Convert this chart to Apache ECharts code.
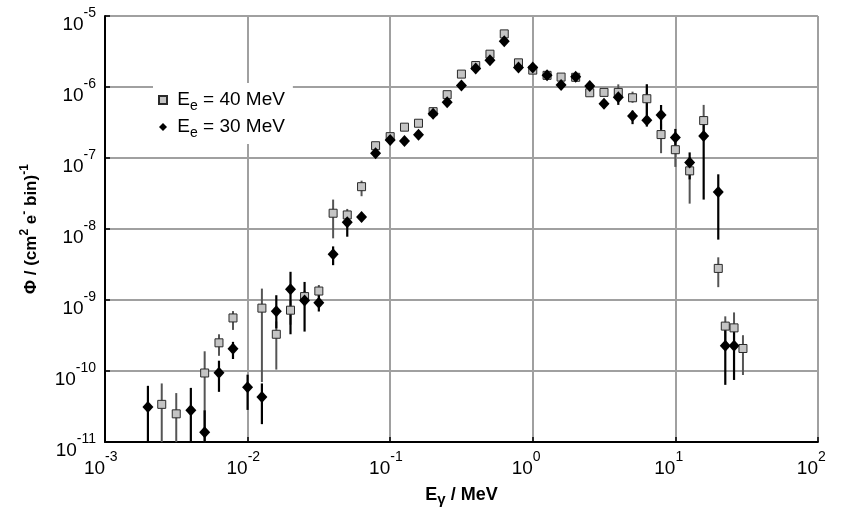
<!DOCTYPE html>
<html>
<head>
<meta charset="utf-8">
<script src="https://cdn.jsdelivr.net/npm/echarts@6/dist/echarts.min.js"></script>
<style>
  html, body { margin: 0; padding: 0; background: #fff; }
  #main { width: 842px; height: 512px; }
</style>
</head>
<body>
<div id="main"></div>
<script>
// E_e = 40 MeV (grey squares)
const energy40 = [0.0025, 0.00316, 0.005, 0.0063, 0.0079, 0.0126, 0.0159, 0.02, 0.0251, 0.0316,
  0.0398, 0.05, 0.063, 0.079, 0.1, 0.126, 0.158, 0.2, 0.251, 0.316, 0.398, 0.501, 0.631, 0.794,
  1.0, 1.26, 1.58, 2.0, 2.51, 3.16, 3.98, 5.01, 6.31, 7.94, 10.0, 12.6, 15.8, 20.0, 22.4, 25.8, 29.8]
const flux40 = [3.4e-11, 2.5e-11, 9.4e-11, 2.5e-10, 5.6e-10, 7.7e-10, 3.3e-10, 7.2e-10, 1.12e-9, 1.34e-9,
  1.67e-8, 1.58e-8, 3.95e-8, 1.49e-7, 2.0e-7, 2.72e-7, 3.09e-7, 4.5e-7, 7.8e-7, 1.52e-6, 2.01e-6, 2.9e-6, 5.6e-6, 2.19e-6,
  1.73e-6, 1.46e-6, 1.38e-6, 1.37e-6, 8.3e-7, 8.4e-7, 8.4e-7, 7.06e-7, 6.84e-7, 2.14e-7, 1.31e-7, 6.6e-8, 3.37e-7, 2.79e-9, 4.3e-10, 4.06e-10, 2.08e-10]
const low40 = [1e-11, 1e-11, 1e-11, 1.64e-10, 3.8e-10, 7e-11, 1.05e-10, 4.5e-10, 9e-10, 1.1e-9,
  7.4e-9, 1.3e-8, 2.9e-8, null, null, null, null, null, null, null, null, null, null, null,
  null, null, null, null, null, null, 7e-7, 6e-7, 4e-7, 1.17e-7, 7.5e-8, 2.28e-8, 2.2e-7, 1.52e-9, 2.5e-10, 2.5e-10, 8.8e-11]
const high40 = [6.7e-11, 4.9e-11, 1.9e-10, 3.3e-10, 7.0e-10, 1.45e-9, 5e-10, 1.0e-9, 1.35e-9, 1.63e-9,
  2.6e-8, 1.92e-8, 4.8e-8, null, null, null, null, null, null, null, null, null, null, null,
  null, null, null, null, null, null, 1.09e-6, 8.6e-7, 1.09e-6, 3e-7, 1.7e-7, 9e-8, 5.6e-7, 4.0e-9, 5.9e-10, 6.7e-10, 3.2e-10]

// E_e = 30 MeV (black diamonds)
const energy30 = [0.002, 0.004, 0.005, 0.0063, 0.0079, 0.01, 0.0126, 0.0159, 0.02, 0.0251, 0.0316,
  0.0398, 0.05, 0.063, 0.079, 0.1, 0.126, 0.158, 0.2, 0.251, 0.316, 0.398, 0.501, 0.631, 0.794,
  1.0, 1.26, 1.58, 2.0, 2.51, 3.16, 3.98, 5.01, 6.31, 7.94, 10.0, 12.6, 15.8, 20.0, 22.4, 25.8]
const flux30 = [3.13e-11, 2.81e-11, 1.38e-11, 9.5e-11, 2.06e-10, 5.9e-11, 4.3e-11, 6.97e-10, 1.42e-9, 9.9e-10, 9.2e-10,
  4.4e-9, 1.25e-8, 1.48e-8, 1.17e-7, 1.8e-7, 1.74e-7, 2.12e-7, 4.2e-7, 6.1e-7, 1.05e-6, 1.83e-6, 2.39e-6, 4.4e-6, 1.89e-6,
  1.89e-6, 1.46e-6, 1.07e-6, 1.40e-6, 1.03e-6, 5.8e-7, 7.2e-7, 3.92e-7, 3.4e-7, 4.05e-7, 1.94e-7, 8.65e-8, 2.05e-7, 3.33e-8, 2.27e-10, 2.27e-10]
const low30 = [1e-11, 1e-11, 1e-11, 5.1e-11, 1.48e-10, 2.84e-11, 1.79e-11, 4e-10, 3.3e-10, 3.6e-10, 6.9e-10,
  3.1e-9, 7.8e-9, null, null, null, null, null, null, null, null, null, null, null, null,
  null, null, null, null, null, null, 5.6e-7, 3.0e-7, 2.77e-7, 2.5e-7, 1.3e-7, 5e-8, 2.6e-8, 7.1e-9, 6.4e-11, 7.5e-11]
const high30 = [6.2e-11, 5.8e-11, 2.8e-11, 1.4e-10, 2.58e-10, 8.9e-11, 6.7e-11, 1.17e-9, 2.5e-9, 1.8e-9, 1.2e-9,
  5.7e-9, 1.5e-8, null, null, null, null, null, null, null, null, null, null, null, null,
  null, null, null, null, null, null, 9e-7, 4.65e-7, 1.09e-6, 5.58e-7, 2.57e-7, 1.2e-7, 3.4e-7, 5.9e-8, 4e-10, 4e-10]

const legendNames = ['40 MeV', '30 MeV']

const font = 'Liberation Sans, Arial, sans-serif'
const zip = (xs, ys) => xs.map((x, i) => [x, ys[i]])

const errorSeries = (xs, lo, hi, color, width, z) => {
  const data = []
  xs.forEach((x, i) => { if (lo[i] != null) data.push([x, lo[i], hi[i]]) })
  return {
    type: 'custom',
    z: z,
    silent: true,
    data: data,
    encode: { x: 0, y: [1, 2] },
    renderItem: (params, api) => {
      const a = api.coord([api.value(0), api.value(1)])
      const b = api.coord([api.value(0), api.value(2)])
      const bottom = params.coordSys.y + params.coordSys.height
      return {
        type: 'line',
        shape: { x1: a[0], y1: Math.min(a[1], bottom + 2), x2: b[0], y2: b[1] },
        style: { stroke: color, lineWidth: width }
      }
    }
  }
}

const expLabel = v => '{b|10}{s|' + Math.round(Math.log10(v)) + '}'

let myChart = echarts.init(document.getElementById('main'))

let option = {
  animation: false,
  grid: { left: 105, right: 21, top: 16, bottom: 69, containLabel: false },
  legend: {
    orient: 'vertical',
    left: 153,
    top: 83,
    padding: [4, 8, 4, 5],
    itemGap: 1,
    itemWidth: 8,
    itemHeight: 8,
    backgroundColor: '#fff',
    data: [
      { name: legendNames[0], icon: 'rect' },
      { name: legendNames[1], icon: 'diamond' }
    ],
    formatter: name => ' E{sub|e} = ' + name,
    textStyle: {
      fontFamily: font, fontSize: 19, color: '#000', lineHeight: 26,
      rich: { sub: { fontFamily: font, fontSize: 14, color: '#000', lineHeight: 13, verticalAlign: 'bottom' } }
    }
  },
  xAxis: {
    type: 'log',
    logBase: 10,
    min: 0.001,
    max: 100,
    name: 'E{sub|γ} / MeV',
    nameLocation: 'middle',
    nameGap: 36,
    nameTextStyle: {
      fontFamily: font, fontSize: 18, fontWeight: 'bold', color: '#000', lineHeight: 24,
      rich: { sub: { fontFamily: font, fontSize: 15, fontWeight: 'bold', color: '#000', lineHeight: 14, verticalAlign: 'bottom' } }
    },
    axisLine: { lineStyle: { color: '#000', width: 2 } },
    axisTick: { inside: true, length: 5, lineStyle: { color: '#000', width: 1.5 } },
    minorTick: { show: false },
    splitLine: { show: true, lineStyle: { color: '#a0a0a0', width: 2 } },
    axisLabel: {
      margin: 8,
      formatter: expLabel,
      rich: {
        b: { fontFamily: font, fontSize: 19, color: '#000', lineHeight: 28, verticalAlign: 'bottom', align: 'left' },
        s: { fontFamily: font, fontSize: 14, color: '#000', lineHeight: 16, verticalAlign: 'top', align: 'left', width: 21 }
      }
    }
  },
  yAxis: {
    type: 'log',
    logBase: 10,
    min: 1e-11,
    max: 1e-5,
    name: 'Φ / (cm{sup|2} e{sup|-} bin){sup|-1}',
    nameLocation: 'middle',
    nameRotate: 90,
    nameGap: 62,
    nameTextStyle: {
      fontFamily: font, fontSize: 17, fontWeight: 'bold', color: '#000', lineHeight: 24,
      rich: { sup: { fontFamily: font, fontSize: 12, fontWeight: 'bold', color: '#000', lineHeight: 12, verticalAlign: 'top' } }
    },
    axisLine: { show: true, lineStyle: { color: '#000', width: 2 } },
    axisTick: { show: true, inside: true, length: 5, lineStyle: { color: '#000', width: 1.5 } },
    splitLine: { show: true, lineStyle: { color: '#a0a0a0', width: 2 } },
    axisLabel: {
      margin: 9,
      padding: [8, 0, 0, 0],
      formatter: expLabel,
      rich: {
        b: { fontFamily: font, fontSize: 19, color: '#000', lineHeight: 28, verticalAlign: 'bottom', align: 'left' },
        s: { fontFamily: font, fontSize: 14, color: '#000', lineHeight: 16, verticalAlign: 'top', align: 'left' }
      }
    }
  },
  series: [
    errorSeries(energy40, low40, high40, '#555', 2, 2),
    errorSeries(energy30, low30, high30, '#000', 2.2, 3),
    {
      name: legendNames[0],
      type: 'scatter',
      z: 4,
      symbol: 'rect',
      symbolSize: 8,
      itemStyle: { color: '#c4c4c4', borderColor: '#2a2a2a', borderWidth: 1, opacity: 1 },
      data: zip(energy40, flux40)
    },
    {
      name: legendNames[1],
      type: 'scatter',
      z: 5,
      symbol: 'diamond',
      symbolSize: [11, 12],
      itemStyle: { color: '#000', opacity: 1 },
      data: zip(energy30, flux30)
    }
  ]
}

myChart.setOption(option)
</script>
</body>
</html>
